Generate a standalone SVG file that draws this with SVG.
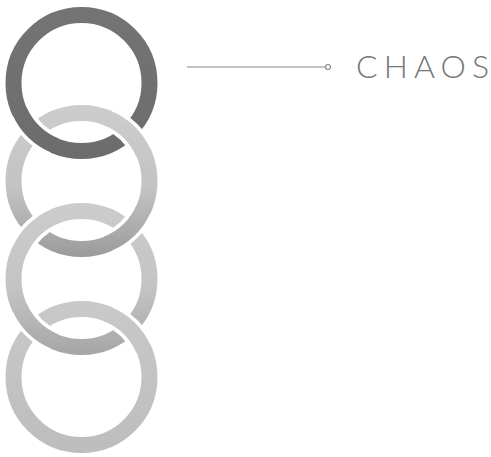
<svg xmlns="http://www.w3.org/2000/svg" width="491" height="457" viewBox="0 0 491 457">
  <style>
    .ring { fill: none; stroke-width: 16; }
    .halo { fill: none; stroke: #ffffff; stroke-width: 23; }
    .seg { fill: none; stroke-width: 16; }
    .lbl { font-family: Lato, "Liberation Sans", sans-serif; font-weight: 300; font-size: 32px; fill: #767676; }
    .conn { fill: none; stroke: #8a8a8a; stroke-width: 1.2; }
  </style>
  <defs>
    <linearGradient id="g1" gradientUnits="userSpaceOnUse" x1="0" y1="7" x2="0" y2="159">
      <stop offset="0" stop-color="#747474"/>
      <stop offset="1" stop-color="#6c6c6c"/>
    </linearGradient>
    <linearGradient id="g2" gradientUnits="userSpaceOnUse" x1="0" y1="105" x2="0" y2="257">
      <stop offset="0" stop-color="#cdcdcd"/>
      <stop offset="0.55" stop-color="#c3c3c3"/>
      <stop offset="1" stop-color="#9b9b9b"/>
    </linearGradient>
    <linearGradient id="g3" gradientUnits="userSpaceOnUse" x1="0" y1="203" x2="0" y2="355">
      <stop offset="0" stop-color="#cccccc"/>
      <stop offset="0.55" stop-color="#c4c4c4"/>
      <stop offset="1" stop-color="#a6a6a6"/>
    </linearGradient>
    <linearGradient id="g4" gradientUnits="userSpaceOnUse" x1="0" y1="301" x2="0" y2="453">
      <stop offset="0" stop-color="#c9c9c9"/>
      <stop offset="1" stop-color="#bdbdbd"/>
    </linearGradient>
  </defs>

  <g id="ring1"><circle class="ring" cx="81.5" cy="83" r="68" stroke="url(#g1)"/></g>
  <g id="ring2"><circle class="ring" cx="81.5" cy="181" r="68" stroke="url(#g2)"/></g>
  <g id="ring3"><circle class="ring" cx="81.5" cy="279" r="68" stroke="url(#g3)"/></g>
  <g id="ring4"><circle class="ring" cx="81.5" cy="377" r="68" stroke="url(#g4)"/></g>

  <g id="crossings">
    <!-- ring1 over ring2 (left) -->
    <path class="halo" d="M53.95,145.17 A68,68 0 0 1 20.44,112.91"/>
    <path class="seg" stroke="url(#g1)" d="M56.14,146.09 A68,68 0 0 1 19.43,110.76"/>
    <!-- ring2 over ring1 (right) -->
    <path class="halo" d="M109.05,118.83 A68,68 0 0 1 142.56,151.09"/>
    <path class="seg" stroke="url(#g2)" d="M106.86,117.91 A68,68 0 0 1 143.57,153.24"/>
    <!-- ring3 over ring2 (left) -->
    <path class="halo" d="M20.44,249.09 A68,68 0 0 1 53.95,216.83"/>
    <path class="seg" stroke="url(#g3)" d="M19.43,251.24 A68,68 0 0 1 56.14,215.91"/>
    <!-- ring2 over ring3 (right) -->
    <path class="halo" d="M142.56,210.91 A68,68 0 0 1 109.05,243.17"/>
    <path class="seg" stroke="url(#g2)" d="M143.57,208.76 A68,68 0 0 1 106.86,244.09"/>
    <!-- ring3 over ring4 (left) -->
    <path class="halo" d="M53.95,341.17 A68,68 0 0 1 20.44,308.91"/>
    <path class="seg" stroke="url(#g3)" d="M56.14,342.09 A68,68 0 0 1 19.43,306.76"/>
    <!-- ring4 over ring3 (right) -->
    <path class="halo" d="M109.05,314.83 A68,68 0 0 1 142.56,347.09"/>
    <path class="seg" stroke="url(#g4)" d="M106.86,313.91 A68,68 0 0 1 143.57,349.24"/>
  </g>

  <g id="connectors">
    <line class="conn" x1="187" y1="67" x2="325.5" y2="67"/>
    <circle class="conn" cx="328" cy="67" r="2.5"/>
  </g>

  <g id="label-chaos">
    <text class="lbl" x="356" y="78" textLength="133" lengthAdjust="spacing">CHAOS</text>
  </g>
</svg>
